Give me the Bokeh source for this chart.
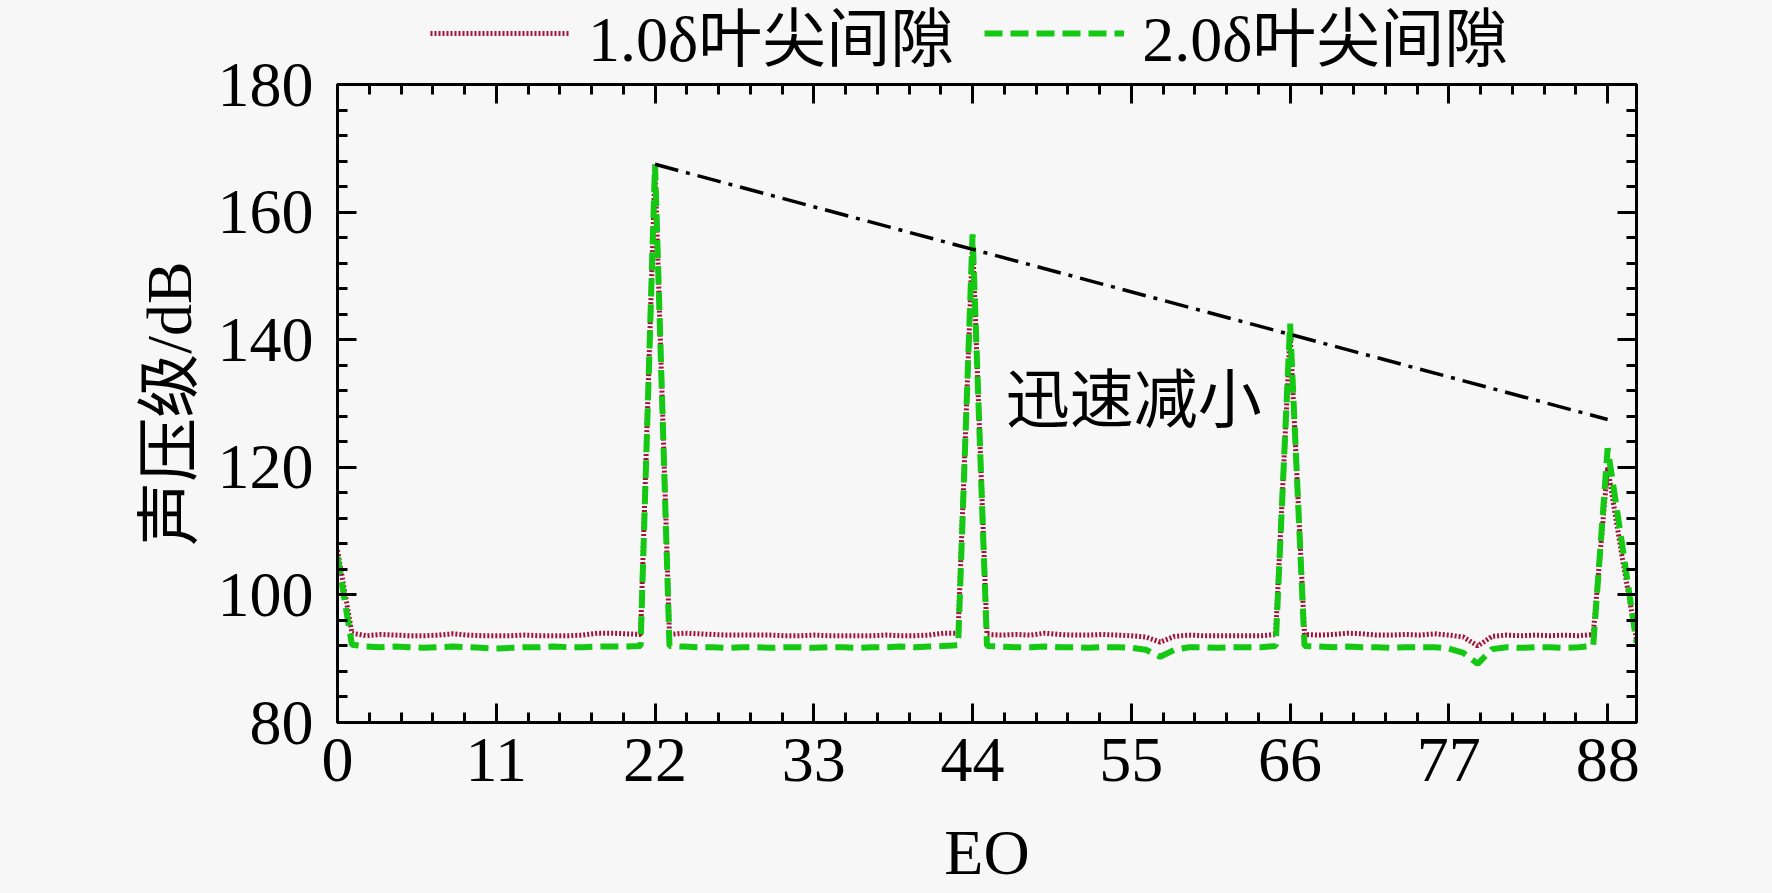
from bokeh.plotting import figure
from bokeh.layouts import column
from bokeh.models import LinearAxis, FixedTicker, Legend, LegendItem, CustomJSTickFormatter
from bokeh.core.properties import value
from bokeh.embed import file_html
from bokeh.resources import INLINE

# ---------------- data ----------------
eo = list(range(0, 91))

spl_1p0 = [107.0, 94.0, 93.6, 93.8, 93.7, 93.6, 93.6, 93.7, 93.9, 93.7,
           93.6, 93.6, 93.6, 93.7, 93.6, 93.6, 93.6, 93.7, 94.0, 94.0,
           93.9, 93.8, 167.0, 93.8, 94.0, 93.9, 93.8, 93.7, 93.7, 93.7,
           93.7, 93.6, 93.6, 93.7, 93.6, 93.6, 93.6, 93.6, 93.7, 93.6,
           93.6, 93.7, 94.0, 94.0, 155.5, 93.8, 93.7, 93.8, 93.7, 94.0,
           93.8, 93.7, 93.7, 93.8, 93.7, 93.6, 93.4, 92.6, 93.5, 93.7,
           93.6, 93.6, 93.6, 93.6, 93.6, 93.8, 141.0, 93.8, 93.7, 93.8,
           94.0, 93.9, 93.7, 93.7, 93.8, 93.7, 93.9, 93.7, 93.4, 92.0,
           93.5, 93.7, 93.6, 93.7, 93.6, 93.7, 93.6, 93.8, 120.0, 106.0,
           93.0]

spl_2p0 = [106.0, 92.2, 91.9, 91.8, 91.9, 91.8, 91.7, 91.8, 91.9, 91.8,
           91.7, 91.6, 91.7, 91.8, 91.8, 91.9, 91.8, 91.8, 91.9, 91.9,
           91.9, 92.0, 167.5, 92.0, 91.9, 91.8, 91.8, 91.7, 91.8, 91.8,
           91.7, 91.8, 91.8, 91.7, 91.8, 91.8, 91.7, 91.8, 91.8, 91.9,
           91.8, 91.9, 92.0, 92.1, 156.5, 92.0, 91.9, 91.8, 91.8, 91.9,
           91.8, 91.8, 91.7, 91.8, 91.8, 91.7, 91.4, 90.3, 91.4, 91.8,
           91.8, 91.7, 91.8, 91.8, 91.8, 92.0, 142.5, 92.0, 91.9, 91.8,
           91.9, 91.8, 91.8, 91.7, 91.8, 91.8, 91.8, 91.6, 90.9, 89.2,
           91.5, 91.8, 91.7, 91.8, 91.8, 91.7, 91.8, 92.0, 123.0, 108.0,
           92.5]

trend_x = [22, 88]
trend_y = [167.5, 127.5]

note_x = [46.3]
note_y = [130.5]
note_text = ["迅速减小"]

series_labels = ["1.0δ叶尖间隙", "2.0δ叶尖间隙"]
x_ticks = [0, 11, 22, 33, 44, 55, 66, 77, 88]
y_ticks = [80, 100, 120, 140, 160, 180]

# ---------------- style ----------------
BG = "#f7f7f7"
FONT = "'Liberation Serif', 'Noto Sans CJK SC', serif"
FS = "64px"
RED = dict(line_color="#a3123a", line_width=5, line_dash="2 2")
GREEN = dict(line_color="#14c814", line_width=6, line_dash="18 8")

W = 1756
H = 893
TOP = 84
LEFT = 337
RIGHT = 120
BOTTOM = 171

p = figure(width=W, height=H, x_range=(0, 90), y_range=(80, 180),
           output_backend="svg", toolbar_location=None,
           background_fill_color=BG, border_fill_color=BG, border_fill_alpha=0,
           min_border_left=LEFT, min_border_right=RIGHT,
           min_border_top=TOP, min_border_bottom=BOTTOM,
           x_axis_label="EO", y_axis_label="声压级/dB")
p.grid.visible = False
p.outline_line_color = "black"
p.outline_line_width = 3

x_minor = [i * 2.2 for i in range(0, 41)]
y_minor = list(range(80, 181, 4))


def style_axis(ax, ticker, labels=True):
    ax.ticker = ticker
    ax.axis_line_color = "black"
    ax.axis_line_width = 3
    ax.major_tick_in = 19
    ax.major_tick_out = 0
    ax.minor_tick_in = 10
    ax.minor_tick_out = 0
    ax.major_tick_line_width = 3
    ax.minor_tick_line_width = 3
    ax.major_tick_line_color = "black"
    ax.minor_tick_line_color = "black"
    if labels:
        ax.major_label_text_font = FONT
        ax.major_label_text_font_size = FS
        ax.major_label_text_color = "black"
        ax.axis_label_text_font = FONT
        ax.axis_label_text_font_size = FS
        ax.axis_label_text_font_style = "normal"
        ax.axis_label_text_color = "black"
    else:
        ax.formatter = CustomJSTickFormatter(code="return ''")
        ax.major_label_standoff = 0


style_axis(p.xaxis[0], FixedTicker(ticks=x_ticks, minor_ticks=x_minor))
style_axis(p.yaxis[0], FixedTicker(ticks=y_ticks, minor_ticks=y_minor))
p.xaxis[0].major_label_standoff = 16
p.xaxis[0].axis_label_standoff = 33
p.yaxis[0].major_label_standoff = 24
p.yaxis[0].axis_label_standoff = 10

top_ax = LinearAxis()
style_axis(top_ax, FixedTicker(ticks=x_ticks, minor_ticks=x_minor), labels=False)
right_ax = LinearAxis()
style_axis(right_ax, FixedTicker(ticks=y_ticks, minor_ticks=y_minor), labels=False)
p.add_layout(top_ax, "above")
p.add_layout(right_ax, "right")

p.line(eo, spl_1p0, **RED)
p.line(eo, spl_2p0, **GREEN)
p.line(trend_x, trend_y, line_color="black", line_width=3.5, line_dash="24 8 4 8")

p.text(note_x, note_y, text=note_text, text_font=value(FONT), text_font_size=FS,
       text_baseline="middle", text_align="left", text_color="black")

# ---------------- legend strip, overlapped by the plot's transparent top border ----
lf = figure(width=W, height=TOP, x_range=(0, 90), y_range=(0, 1),
            output_backend="svg", toolbar_location=None,
            x_axis_type=None, y_axis_type=None,
            background_fill_color=BG, border_fill_color=BG,
            min_border_left=LEFT, min_border_right=RIGHT,
            min_border_top=0, min_border_bottom=0, outline_line_color=None)
lf.grid.visible = False
k1 = lf.line(eo, spl_1p0, **RED)   # outside this strip's y-range: only the legend key shows
k2 = lf.line(eo, spl_2p0, **GREEN)
legend = Legend(items=[LegendItem(label=series_labels[0], renderers=[k1]),
                       LegendItem(label=series_labels[1], renderers=[k2])],
                orientation="horizontal", location=(93, 5),
                label_text_font=FONT, label_text_font_size=FS,
                label_text_color="black",
                glyph_width=140, glyph_height=30, label_standoff=18,
                spacing=30, padding=0, margin=0,
                border_line_color=None, background_fill_alpha=0)
lf.add_layout(legend, "center")

p.margin = (-TOP, 0, 0, 0)
layout = column(lf, p, spacing=0)

html = file_html(layout, INLINE)
html = html.replace("</head>",
                    "<style>html, body { background: %s; }</style>\n</head>" % BG, 1)
open("out.html", "w").write(html)
